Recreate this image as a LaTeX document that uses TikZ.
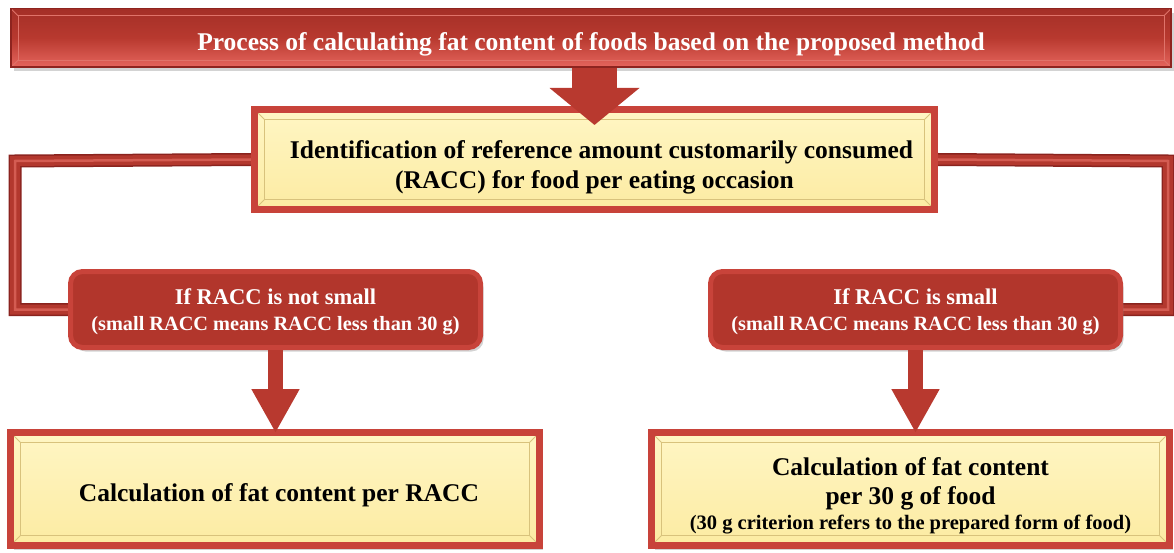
\documentclass[tikz,border=0pt]{standalone}
\usepackage{fontspec}
\setmainfont{Liberation Serif}
\newfontfamily\tnr{Liberation Serif}
\usetikzlibrary{arrows.meta,shadows,backgrounds}
\definecolor{redTop}{HTML}{A42F27}
\definecolor{redMid}{HTML}{B8392F}
\definecolor{redBot}{HTML}{E5655D}
\definecolor{redEdge}{HTML}{8E241F}
\definecolor{redBorder}{HTML}{C8433A}
\definecolor{redFill}{HTML}{B2362C}
\definecolor{redLight}{HTML}{E0736A}
\definecolor{yelTop}{HTML}{FFF6C4}
\definecolor{yelBot}{HTML}{FCEBA2}
\definecolor{yelDark}{HTML}{D8C27C}
\definecolor{tubeDark}{HTML}{8A231E}
\definecolor{tubeMid}{HTML}{B3382E}
\definecolor{tubeLight}{HTML}{D45C52}
\newcommand{\upstrut}[1]{\rule{0pt}{#1}}
\tikzset{
  bevel/.style n args={2}{path picture={
    \draw[#1, line width=1pt]
      ([xshift=#2,yshift=-#2]path picture bounding box.north west) rectangle
      ([xshift=-#2,yshift=#2]path picture bounding box.south east);
    \draw[#1, line width=0.8pt]
      (path picture bounding box.north west) -- ([xshift=#2,yshift=-#2]path picture bounding box.north west)
      (path picture bounding box.north east) -- ([xshift=-#2,yshift=-#2]path picture bounding box.north east)
      (path picture bounding box.south west) -- ([xshift=#2,yshift=#2]path picture bounding box.south west)
      (path picture bounding box.south east) -- ([xshift=-#2,yshift=#2]path picture bounding box.south east);
  }},
  banner/.style={rectangle, draw=redEdge, line width=1.5pt,
    top color=redTop, bottom color=redBot, middle color=redMid,
    minimum width=1160pt, minimum height=58.5pt, text=white,
    font=\tnr\bfseries\fontsize{25.5}{30}\selectfont,
    bevel={redLight}{7pt},
    drop shadow={shadow xshift=3pt, shadow yshift=-4pt, opacity=0.35}},
  ybox/.style={rectangle, draw=redBorder, line width=7pt,
    top color=yelTop, bottom color=yelBot, align=center, text=black,
    inner sep=0pt, bevel={yelDark}{10pt},
    drop shadow={shadow xshift=3pt, shadow yshift=-4pt, opacity=0.35}},
  dbox/.style={rectangle, rounded corners=12pt, draw=redBorder, line width=5pt,
    fill=redFill, align=center, text=white,
    minimum width=410pt, minimum height=76pt, inner sep=0pt,
    font=\tnr\bfseries\fontsize{22.5}{26}\selectfont,
    drop shadow={shadow xshift=3pt, shadow yshift=-4pt, opacity=0.35}},
  tube/.style={line width=13pt, draw=tubeDark, line join=miter},
  tubemid/.style={line width=10pt, draw=tubeMid, line join=miter},
  tubehi/.style={line width=2.5pt, draw=tubeLight, line join=miter},
  bigarrow/.style={line width=45pt, draw=redMid,
    -{Triangle[width=88pt,length=37pt]}, shorten >=-19pt},
  smallarrow/.style={line width=15pt, draw=redMid,
    -{Triangle[width=45pt,length=44pt]}, shorten >=-4pt},
}
\begin{document}
\begin{tikzpicture}[x=1pt,y=-1pt]
\useasboundingbox (0,0) rectangle (1174,553);

\node[banner] (title) at (591,38)
  {\upstrut{30pt}Process of calculating fat content of foods based on the proposed method};

\node[ybox, minimum width=680pt, minimum height=100pt,
      font=\tnr\bfseries\fontsize{25.5}{30}\selectfont] (racc) at (594.5,159.5)
  {\upstrut{33pt}\hspace*{14pt}Identification of reference amount customarily consumed\\
   (RACC) for food per eating occasion};

\node[dbox] (notsmall) at (275.5,309.5)
  {\upstrut{21pt}If RACC is not small\\
   {\fontsize{20.3}{24}\selectfont (small RACC means RACC less than 30 g)}};

\node[dbox] (small) at (915.5,309.5)
  {\upstrut{21pt}If RACC is small\\
   {\fontsize{20.3}{24}\selectfont (small RACC means RACC less than 30 g)}};

\node[ybox, minimum width=529pt, minimum height=113pt,
      font=\tnr\bfseries\fontsize{25.5}{30}\selectfont] (perracc) at (275,489)
  {\upstrut{31pt}\hspace*{8pt}Calculation of fat content per RACC};

\node[ybox, minimum width=518pt, minimum height=113pt,
      font=\tnr\bfseries\fontsize{25.5}{30}\selectfont] (per30) at (910.5,489)
  {\upstrut{32pt}Calculation of fat content\\[-1pt]
   per 30 g of food\\[-5pt]
   {\fontsize{20.5}{24}\selectfont (30 g criterion refers to the prepared form of food)}};

\begin{pgfonlayer}{background}
  \foreach \s in {tube,tubemid,tubehi}{
    \draw[\s] (racc.west) -- ++(-236,1.5) |- (notsmall.west);
    \draw[\s] (racc.east) -- ++(230,1.5) |- (small.east);
  }
\end{pgfonlayer}

\draw[bigarrow] (racc.north |- title.south) -- (racc.north);
\draw[smallarrow] (notsmall.south) -- (notsmall.south |- perracc.north);
\draw[smallarrow] (small.south) -- (small.south |- per30.north);
\end{tikzpicture}
\end{document}
